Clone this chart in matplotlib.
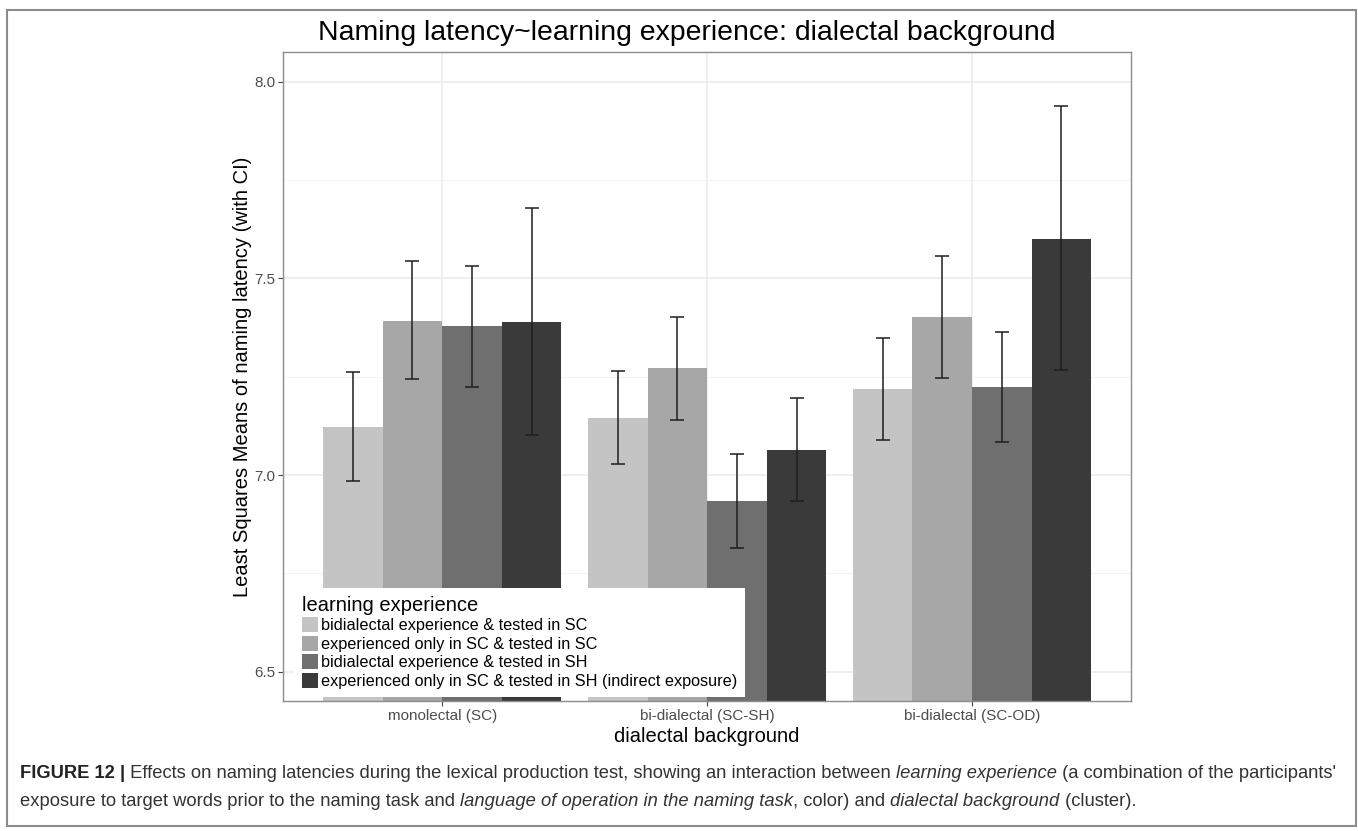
import numpy as np
import matplotlib.pyplot as plt
from matplotlib.patches import Rectangle
from matplotlib.ticker import MultipleLocator

plt.rcParams['font.family'] = ['Liberation Sans', 'DejaVu Sans']

backgrounds = ["monolectal (SC)", "bi-dialectal (SC-SH)", "bi-dialectal (SC-OD)"]
experiences = [
    "bidialectal experience & tested in SC",
    "experienced only in SC & tested in SC",
    "bidialectal experience & tested in SH",
    "experienced only in SC & tested in SH (indirect exposure)",
]

# least squares means, one list per learning experience (order = backgrounds)
mean_bi_sc = [7.123, 7.146, 7.219]
mean_only_sc = [7.392, 7.271, 7.402]
mean_bi_sh = [7.378, 6.935, 7.225]
mean_only_sh = [7.388, 7.064, 7.601]

low_bi_sc = [6.984, 7.027, 7.090]
low_only_sc = [7.244, 7.140, 7.247]
low_bi_sh = [7.224, 6.815, 7.084]
low_only_sh = [7.101, 6.934, 7.266]

high_bi_sc = [7.262, 7.264, 7.348]
high_only_sc = [7.544, 7.402, 7.557]
high_bi_sh = [7.531, 7.054, 7.364]
high_only_sh = [7.678, 7.196, 7.939]

means = [mean_bi_sc, mean_only_sc, mean_bi_sh, mean_only_sh]
lows = [low_bi_sc, low_only_sc, low_bi_sh, low_only_sh]
highs = [high_bi_sc, high_only_sc, high_bi_sh, high_only_sh]
fills = ['#c4c4c4', '#a7a7a7', '#6f6f6f', '#3a3a3a']

W, H = 1358, 831
fig = plt.figure(figsize=(W / 100, H / 100), dpi=100)
ax = fig.add_axes([283.3 / W, 1 - 701.2 / H, (1131 - 283.3) / W, (701.2 - 52.2) / H])

x = np.arange(1, len(backgrounds) + 1)
bw = 0.225
for i, (m, lo, hi, c, lab) in enumerate(zip(means, lows, highs, fills, experiences)):
    pos = x + (i - 1.5) * bw
    m = np.array(m)
    ax.bar(pos, m, width=bw, color=c, label=lab, zorder=2)
    ax.errorbar(pos, m, yerr=[m - np.array(lo), np.array(hi) - m], fmt='none',
                ecolor='#1e1e1e', elinewidth=1.1, capsize=5, capthick=1.1, zorder=3)

ax.set_xlim(0.4, 3.6)
ax.set_ylim(6.425, 8.075)
ax.set_xticks(x)
ax.set_xticklabels(backgrounds)
ax.set_yticks([6.5, 7.0, 7.5, 8.0])
ax.yaxis.set_minor_locator(MultipleLocator(0.25))
ax.grid(True, which='major', color='#ebebeb', lw=1.1, zorder=0)
ax.grid(True, which='minor', axis='y', color='#f4f4f4', lw=0.8, zorder=0)
ax.set_axisbelow(True)
ax.tick_params(which='major', length=3.5, width=0.8, color='#444444', labelcolor='#4d4d4d',
               labelsize=11, pad=2)
ax.tick_params(which='minor', length=0)
for s in ax.spines.values():
    s.set_color('#8c8c8c')
    s.set_linewidth(1.0)

ax.set_xlabel('dialectal background', fontsize=14.5, labelpad=3)
ax.set_ylabel('Least Squares Means of naming latency (with CI)', fontsize=14.5, labelpad=1.5)

leg = ax.legend(loc='lower left', bbox_to_anchor=(0.0123, 0.0065), borderaxespad=0,
                title='learning experience', title_fontsize=14.5, fontsize=11.7,
                handlelength=0.98, handleheight=1.05, handletextpad=0.18, labelspacing=0.15,
                borderpad=0.5, frameon=True, fancybox=False, framealpha=1,
                alignment='left')
leg.get_frame().set_facecolor('white')
leg.get_frame().set_edgecolor('none')

fig.text(318 / W, 1 - 40 / H, 'Naming latency~learning experience: dialectal background',
         fontsize=20.4, va='baseline', ha='left')

# outer frame around figure and caption
fig.add_artist(Rectangle((7 / W, 1 - 826 / H), (1356 - 7) / W, (826 - 10) / H,
                         transform=fig.transFigure, fill=False, ec='#8c8c8c', lw=1.5))

cap_fs = 13.2
cap_col = '#333333'


def caption_line(pieces, x0, y0):
    prev = None
    for txt, style in pieces:
        kw = dict(fontsize=cap_fs, color=cap_col)
        if style == 'b':
            kw.update(fontweight='bold', color='#222222')
        elif style == 'i':
            kw.update(fontstyle='italic')
        if prev is None:
            prev = fig.text(x0, y0, txt, va='baseline', ha='left', **kw)
        else:
            prev = ax.annotate(txt, xy=(1, 0), xycoords=prev, va='bottom', ha='left',
                               annotation_clip=False, **kw)


caption_line([
    ('FIGURE 12 |', 'b'),
    (' Effects on naming latencies during the lexical production test, showing an interaction between ', ''),
    ('learning experience', 'i'),
    (" (a combination of the participants'", ''),
], 20 / W, 1 - 778 / H)
caption_line([
    ('exposure to target words prior to the naming task and ', ''),
    ('language of operation in the naming task', 'i'),
    (', color) and ', ''),
    ('dialectal background', 'i'),
    (' (cluster).', ''),
], 20 / W, 1 - 806 / H)

fig.savefig('out.png', dpi=100)
